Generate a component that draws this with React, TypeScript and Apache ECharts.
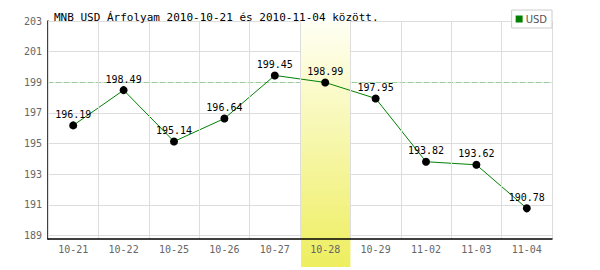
import React, { useEffect, useRef } from "react";
import * as echarts from "echarts";

const categories = ["10-21", "10-22", "10-25", "10-26", "10-27", "10-28", "10-29", "11-02", "11-03", "11-04"];
const usdValues = [196.19, 198.49, 195.14, 196.64, 199.45, 198.99, 197.95, 193.82, 193.62, 190.78];
const yTicks = [189, 191, 193, 195, 197, 199, 201, 203];
const referenceLevel = 199;
const highlightCategory = "10-28";
const yMin = 188.78;
const yMax = 203;
const titleText = "MNB USD Árfolyam 2010-10-21 és 2010-11-04 között.";
const seriesName = "USD";

const MONO = "'DejaVu Sans Mono', monospace";

export default function App() {
  const ref = useRef<HTMLDivElement>(null);
  useEffect(() => {
    if (!ref.current) return;
    const chart = echarts.init(ref.current, undefined, { renderer: "svg" });
    chart.setOption({
      animation: false,
      backgroundColor: "#ffffff",
      title: {
        text: titleText,
        left: 49,
        top: 7,
        textStyle: { fontFamily: MONO, fontSize: 11, fontWeight: "normal", color: "#000" },
      },
      legend: {
        right: 48,
        top: 10,
        data: [{ name: seriesName, itemStyle: { color: "#008000" } }],
        icon: "rect",
        itemWidth: 7,
        itemHeight: 7,
        itemGap: 4,
        padding: [4, 5, 4, 4],
        borderColor: "#cccccc",
        borderWidth: 1,
        backgroundColor: "#fff",
        textStyle: { fontFamily: "'DejaVu Sans', sans-serif", fontSize: 10, color: "#555", padding: [0, 0, 0, -2] },
      },
      grid: { left: 48, right: 48, top: 21, bottom: 31, containLabel: false },
      xAxis: {
        type: "category",
        data: categories,
        boundaryGap: true,
        z: 3,
        axisLine: { lineStyle: { color: "#000", width: 1.5 } },
        axisTick: { show: false },
        axisLabel: { fontFamily: MONO, fontSize: 10, color: "#666", margin: 5 },
        splitLine: { show: true, lineStyle: { color: "#dddddd", width: 1 } },
      },
      yAxis: {
        type: "value",
        min: yMin,
        max: yMax,
        z: 0,
        axisLine: { show: true, lineStyle: { color: "#000", width: 1.5 } },
        axisTick: { show: false, customValues: yTicks },
        axisLabel: { fontFamily: MONO, fontSize: 10, color: "#666", margin: 6, customValues: yTicks },
        splitLine: { show: true, lineStyle: { color: "#dddddd", width: 1 } },
      },
      series: [
        {
          name: "ref",
          type: "line",
          data: [],
          z: 0,
          silent: true,
          markLine: {
            z: 0,
            silent: true,
            symbol: ["none", "none"],
            label: { show: false },
            lineStyle: { color: "#99cc99", type: [5, 3], width: 1 },
            data: [{ yAxis: referenceLevel }],
          },
        },
        {
          name: seriesName,
          type: "line",
          data: usdValues,
          z: 2,
          lineStyle: { color: "#008000", width: 1 },
          itemStyle: { color: "#000" },
          symbol: "circle",
          symbolSize: 8,
          label: {
            show: true,
            position: "top",
            distance: 2,
            fontFamily: MONO,
            fontSize: 10,
            color: "#000",
            formatter: (p: any) => p.value.toFixed(2),
          },
        },
      ],
    });
    const idx = categories.indexOf(highlightCategory);
    const c0 = chart.convertToPixel({ xAxisIndex: 0 }, categories[0]) as number;
    const c1 = chart.convertToPixel({ xAxisIndex: 0 }, categories[1]) as number;
    const cw = c1 - c0;
    const cx = chart.convertToPixel({ xAxisIndex: 0 }, categories[idx]) as number;
    const yTop = chart.convertToPixel({ yAxisIndex: 0 }, yMax) as number;
    chart.setOption({
      graphic: [
        {
          type: "rect",
          z: 1,
          silent: true,
          shape: { x: cx - cw / 2 + 1, y: yTop, width: cw - 1, height: 267 - yTop },
          style: {
            fill: new echarts.graphic.LinearGradient(0, 0, 0, 1, [
              { offset: 0, color: "#fffff4" },
              { offset: 1, color: "#eeee60" },
            ]),
          },
        },
      ],
    });
    return () => chart.dispose();
  }, []);
  return <div ref={ref} style={{ position: "fixed", left: 0, top: 0, width: 600, height: 270 }} />;
}
